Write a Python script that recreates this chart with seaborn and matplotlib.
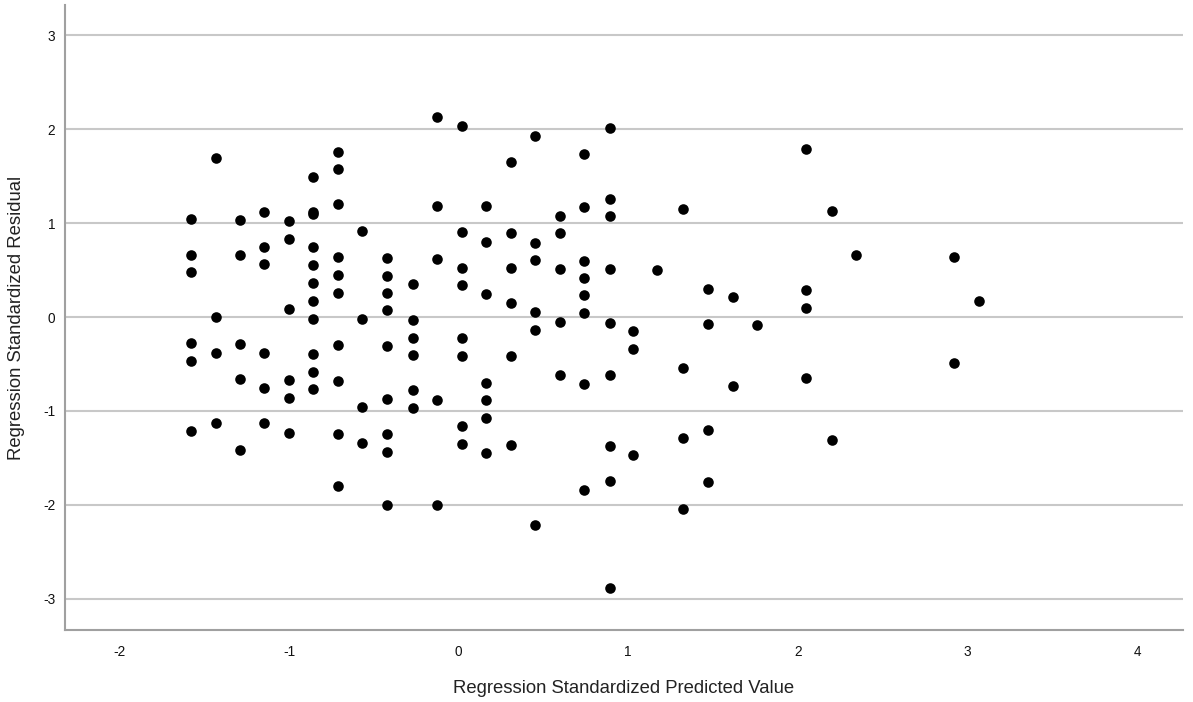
import matplotlib.pyplot as plt
import pandas as pd
import seaborn as sns

# predicted value levels (x) and the residuals observed at each level (y)
pred_levels = [-1.58, -1.43, -1.29, -1.15, -1.00, -0.86, -0.71, -0.57, -0.42, -0.27,
               -0.13, 0.02, 0.16, 0.31, 0.45, 0.60, 0.74, 0.89, 1.03, 1.17,
               1.32, 1.47, 1.62, 1.76, 2.05, 2.20, 2.34, 2.92, 3.07]
resid_groups = [
    [1.04, 0.66, 0.48, -0.28, -0.47, -1.21],
    [1.69, 0.00, -0.38, -1.13],
    [1.03, 0.66, -0.29, -0.66, -1.41],
    [1.12, 0.74, 0.56, -0.38, -0.76, -1.13],
    [1.02, 0.83, 0.08, -0.67, -0.86, -1.23],
    [1.49, 1.12, 1.10, 0.74, 0.55, 0.36, 0.17, -0.02, -0.39, -0.58, -0.77],
    [1.76, 1.57, 1.20, 0.64, 0.45, 0.26, -0.30, -0.68, -1.24, -1.80],
    [0.91, -0.02, -0.96, -1.34],
    [0.63, 0.44, 0.26, 0.07, -0.31, -0.87, -1.25, -1.44, -2.00],
    [0.35, -0.03, -0.22, -0.40, -0.78, -0.97],
    [2.13, 1.18, 0.62, -0.88, -2.00],
    [2.03, 0.90, 0.52, 0.34, -0.22, -0.41, -1.16, -1.35],
    [1.18, 0.80, 0.24, -0.70, -0.88, -1.07, -1.45],
    [1.65, 0.89, 0.52, 0.15, -0.42, -1.36],
    [1.93, 0.79, 0.61, 0.05, -0.14, -2.21],
    [1.07, 0.89, 0.51, -0.05, -0.62],
    [1.73, 1.17, 0.60, 0.41, 0.23, 0.04, -0.71, -1.84],
    [2.01, 1.26, 1.07, 0.51, -0.06, -0.62, -1.37, -1.75, -2.88],
    [-0.15, -0.34, -1.47],
    [0.50],
    [1.15, -0.54, -1.29, -2.04],
    [0.30, -0.07, -1.20, -1.76],
    [0.21, -0.73],
    [-0.08],
    [1.79, 0.29, 0.10, -0.65],
    [1.13, -1.31],
    [0.66],
    [0.64, -0.49],
    [0.17],
]
x_ticks = [-2, -1, 0, 1, 2, 3, 4]
y_ticks = [-3, -2, -1, 0, 1, 2, 3]

rows = []
for xv, ys in zip(pred_levels, resid_groups):
    for yv in ys:
        rows.append({'pred': xv, 'resid': yv})
df = pd.DataFrame(rows)

sns.set_style('white')
plt.rcParams['font.family'] = ['Liberation Sans', 'DejaVu Sans']
plt.rcParams['axes.unicode_minus'] = False

fig = plt.figure(figsize=(11.93, 7.02), dpi=100)
ax = fig.add_axes([0.0545, 0.1026, 0.9371, 0.8903])

ax.set_axisbelow(True)
ax.grid(axis='y', color='#c8c8c8', linewidth=1.5)
ax.grid(axis='x', visible=False)

sns.scatterplot(data=df, x='pred', y='resid', ax=ax, color='black',
                s=58, edgecolor='black', linewidth=0)

ax.set_xlim(-2.32, 4.27)
ax.set_ylim(-3.33, 3.32)
ax.set_xticks(x_ticks)
ax.set_yticks(y_ticks)
ax.tick_params(length=0, labelsize=9.8, colors='#111111')
ax.tick_params(axis='x', pad=11)
ax.tick_params(axis='y', pad=7)

for side in ['top', 'right']:
    ax.spines[side].set_visible(False)
for side in ['left', 'bottom']:
    ax.spines[side].set_color('#a0a0a0')
    ax.spines[side].set_linewidth(1.5)

ax.set_xlabel('Regression Standardized Predicted Value', fontsize=13.3, color='#222222', labelpad=15)
ax.set_ylabel('Regression Standardized Residual', fontsize=13.3, color='#222222', labelpad=13)

fig.savefig('out.png', dpi=100)
